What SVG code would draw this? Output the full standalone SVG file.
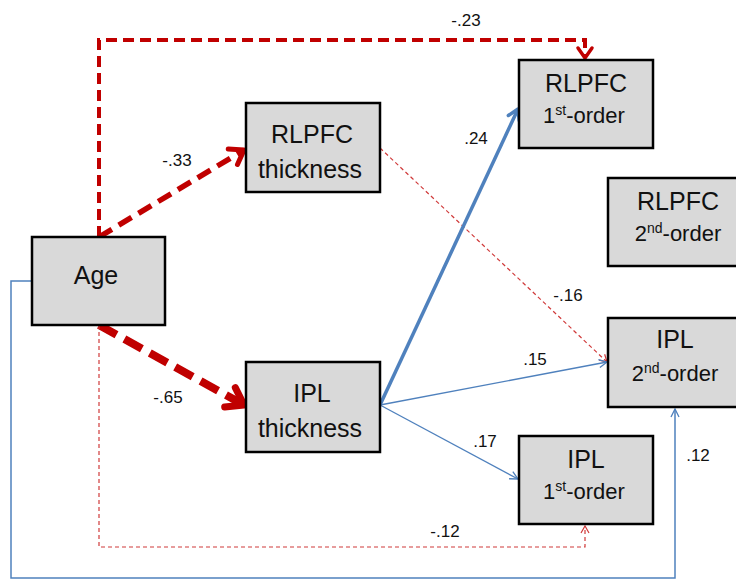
<svg xmlns="http://www.w3.org/2000/svg" width="736" height="580" viewBox="0 0 736 580">
<style>
.box{fill:#D9D9D9;stroke:#000;stroke-width:2.5}
.t{font-family:"Liberation Sans",Arial,sans-serif;font-size:25px;fill:#111;text-anchor:middle}
.s{font-family:"Liberation Sans",Arial,sans-serif;font-size:22px;fill:#111;text-anchor:middle}
.lab{font-family:"Liberation Sans",Arial,sans-serif;font-size:17px;fill:#111;text-anchor:middle}
.sup{font-size:14px}
</style>
<defs>
<marker id="aRed" viewBox="-20 -14 24 28" markerWidth="24" markerHeight="28" refX="0" refY="0" orient="auto" markerUnits="userSpaceOnUse">
<path d="M-13,-9 L0,0 L-13,9" fill="none" stroke="#C00000" stroke-width="5" stroke-linecap="round" stroke-linejoin="round"/>
</marker>
<marker id="aRedBig" viewBox="-24 -16 28 32" markerWidth="28" markerHeight="32" refX="0" refY="0" orient="auto" markerUnits="userSpaceOnUse">
<path d="M-16,-11 L0,0 L-16,11" fill="none" stroke="#C00000" stroke-width="7" stroke-linecap="round" stroke-linejoin="round"/>
</marker>
<marker id="aRedMid" viewBox="-16 -12 20 24" markerWidth="20" markerHeight="24" refX="0" refY="0" orient="auto" markerUnits="userSpaceOnUse">
<path d="M-10,-7 L0,0 L-10,7" fill="none" stroke="#C00000" stroke-width="3.5" stroke-linecap="round" stroke-linejoin="round"/>
</marker>
<marker id="aRedThin" viewBox="-12 -8 14 16" markerWidth="14" markerHeight="16" refX="0" refY="0" orient="auto" markerUnits="userSpaceOnUse">
<path d="M-7,-4 L0,0 L-7,4" fill="none" stroke="#D03A3A" stroke-width="1.2"/>
</marker>
<marker id="aBlue" viewBox="-16 -12 20 24" markerWidth="20" markerHeight="24" refX="0" refY="0" orient="auto" markerUnits="userSpaceOnUse">
<path d="M-10,-6 L0,0 L-10,6" fill="none" stroke="#4F81BD" stroke-width="3.5" stroke-linecap="round" stroke-linejoin="round"/>
</marker>
<marker id="aBlueThin" viewBox="-12 -8 14 16" markerWidth="14" markerHeight="16" refX="0" refY="0" orient="auto" markerUnits="userSpaceOnUse">
<path d="M-8,-4 L0,0 L-8,4" fill="none" stroke="#4F81BD" stroke-width="1.3"/>
</marker>
</defs>

<g id="connectors" fill="none">
<path d="M99,237 V40 H585 V58" stroke="#C00000" stroke-width="4" stroke-dasharray="11,6" marker-end="url(#aRedMid)"/>
<path d="M99,237 L244,150" stroke="#C00000" stroke-width="5.5" stroke-dasharray="15,8" marker-end="url(#aRed)"/>
<path d="M99,325 L244,405" stroke="#C00000" stroke-width="8" stroke-dasharray="20,9" marker-end="url(#aRedBig)"/>
<path d="M99,325 V547 H585 V526" stroke="#D03A3A" stroke-width="1.2" stroke-dasharray="4,3" marker-end="url(#aRedThin)"/>
<path d="M32,281 H11 V578 H675 V409" stroke="#4F81BD" stroke-width="1.5" marker-end="url(#aBlueThin)"/>
<path d="M380,148 L607,362" stroke="#D03A3A" stroke-width="1.2" stroke-dasharray="4,3" marker-end="url(#aRedThin)"/>
<path d="M380,405 L518,109" stroke="#4F81BD" stroke-width="3.5" marker-end="url(#aBlue)"/>
<path d="M380,405 L607,362" stroke="#4F81BD" stroke-width="1.3" marker-end="url(#aBlueThin)"/>
<path d="M380,405 L518,479" stroke="#4F81BD" stroke-width="1.3" marker-end="url(#aBlueThin)"/>
</g>

<g id="labels">
<text class="lab" x="466" y="26">-.23</text>
<text class="lab" x="177" y="166">-.33</text>
<text class="lab" x="168" y="403">-.65</text>
<text class="lab" x="445" y="537">-.12</text>
<text class="lab" x="698" y="461">.12</text>
<text class="lab" x="568" y="301">-.16</text>
<text class="lab" x="476" y="144">.24</text>
<text class="lab" x="535" y="365">.15</text>
<text class="lab" x="485" y="447">.17</text>
</g>

<g id="age">
<rect class="box" x="32" y="237" width="133" height="88"/>
<text class="t" x="96" y="284">Age</text>
</g>
<g id="rlpfc-thickness">
<rect class="box" x="246" y="103" width="134" height="89"/>
<text class="t" x="312" y="143">RLPFC</text>
<text class="t" x="310" y="178">thickness</text>
</g>
<g id="ipl-thickness">
<rect class="box" x="246" y="362" width="134" height="90"/>
<text class="t" x="312" y="402">IPL</text>
<text class="t" x="310" y="437">thickness</text>
</g>
<g id="rlpfc-1st">
<rect class="box" x="519" y="60" width="134" height="88"/>
<text class="t" x="586" y="92">RLPFC</text>
<text class="s" x="584" y="123">1<tspan class="sup" dy="-8">st</tspan><tspan dy="8">-order</tspan></text>
</g>
<g id="rlpfc-2nd">
<rect class="box" x="608" y="178" width="134" height="88"/>
<text class="t" x="678" y="210">RLPFC</text>
<text class="s" x="678" y="241">2<tspan class="sup" dy="-8">nd</tspan><tspan dy="8">-order</tspan></text>
</g>
<g id="ipl-2nd">
<rect class="box" x="608" y="318" width="134" height="89"/>
<text class="t" x="675" y="348">IPL</text>
<text class="s" x="675" y="381">2<tspan class="sup" dy="-8">nd</tspan><tspan dy="8">-order</tspan></text>
</g>
<g id="ipl-1st">
<rect class="box" x="519" y="436" width="134" height="88"/>
<text class="t" x="586" y="468">IPL</text>
<text class="s" x="584" y="499">1<tspan class="sup" dy="-8">st</tspan><tspan dy="8">-order</tspan></text>
</g>
</svg>
